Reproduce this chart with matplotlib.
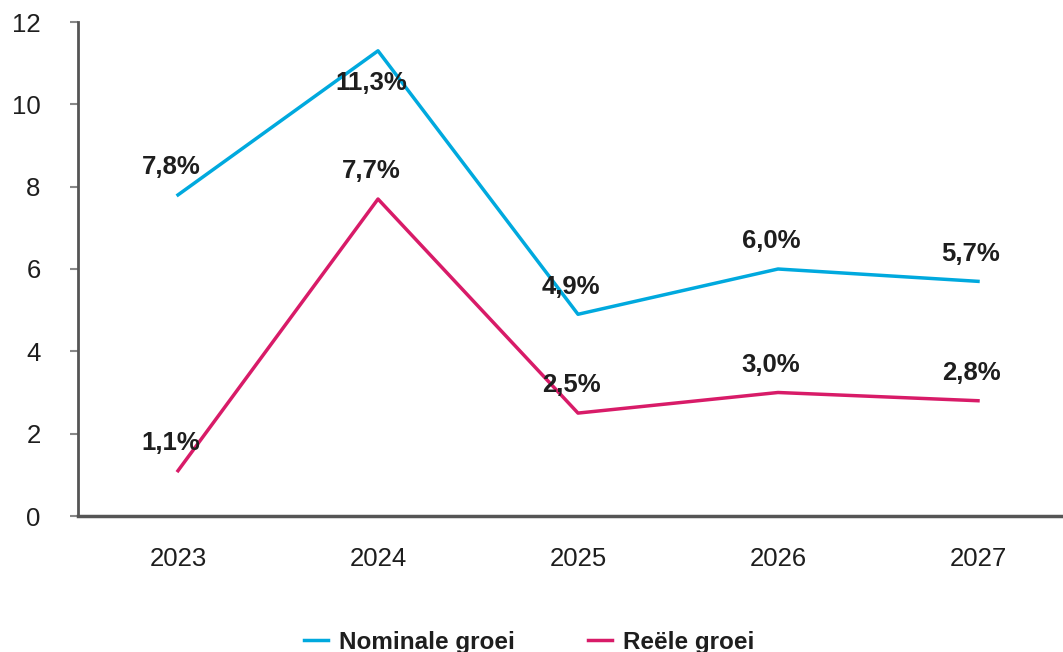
import matplotlib.pyplot as plt

jaren = [2023, 2024, 2025, 2026, 2027]
nominaal = [7.8, 11.3, 4.9, 6.0, 5.7]
reeel = [1.1, 7.7, 2.5, 3.0, 2.8]
labels_nominaal = ["7,8%", "11,3%", "4,9%", "6,0%", "5,7%"]
labels_reeel = ["1,1%", "7,7%", "2,5%", "3,0%", "2,8%"]

blauw = "#00a9de"
roze = "#d81b68"
grijs = "#555555"
tekst = "#1e1e1e"

plt.rcParams["font.family"] = ["Liberation Sans", "DejaVu Sans"]

fig = plt.figure(figsize=(10.63, 6.52), dpi=100)
ax = fig.add_axes([78 / 1063, 136 / 652, 1 - 78 / 1063, 494 / 652])

ax.plot(jaren, nominaal, color=blauw, lw=2.5, label="Nominale groei")
ax.plot(jaren, reeel, color=roze, lw=2.5, label="Reële groei")

# labels boven de punten, behalve de piek van 2024
for i in range(len(jaren)):
    dy = 20
    if i == 1:
        dy = -23
    ax.annotate(labels_nominaal[i], (jaren[i], nominaal[i]), xytext=(-5, dy),
                textcoords="offset points", ha="center", va="center",
                fontsize=18.5, fontweight="bold", color=tekst)
    ax.annotate(labels_reeel[i], (jaren[i], reeel[i]), xytext=(-5, 20),
                textcoords="offset points", ha="center", va="center",
                fontsize=18.5, fontweight="bold", color=tekst)

ax.set_xlim(2022.5, 2027.425)
ax.set_ylim(0, 12)
ax.set_yticks(range(0, 13, 2))
ax.set_xticks(jaren)

ax.spines["top"].set_visible(False)
ax.spines["right"].set_visible(False)
ax.spines["left"].set_color(grijs)
ax.spines["bottom"].set_color(grijs)
ax.spines["left"].set_linewidth(2)
ax.spines["bottom"].set_linewidth(2.5)

ax.tick_params(axis="y", length=6, width=1.5, color="#888888", pad=21,
               labelsize=18.5, labelcolor=tekst)
ax.tick_params(axis="x", length=0, pad=22, labelsize=18.5, labelcolor=tekst)

fig.legend(loc="center", bbox_to_anchor=(0.498, 0.015), ncol=2, frameon=False,
           handlelength=1.0, handletextpad=0.45, columnspacing=3.0,
           prop={"size": 17.5, "weight": "bold"}, labelcolor=tekst)

fig.savefig("out.png", dpi=100)
